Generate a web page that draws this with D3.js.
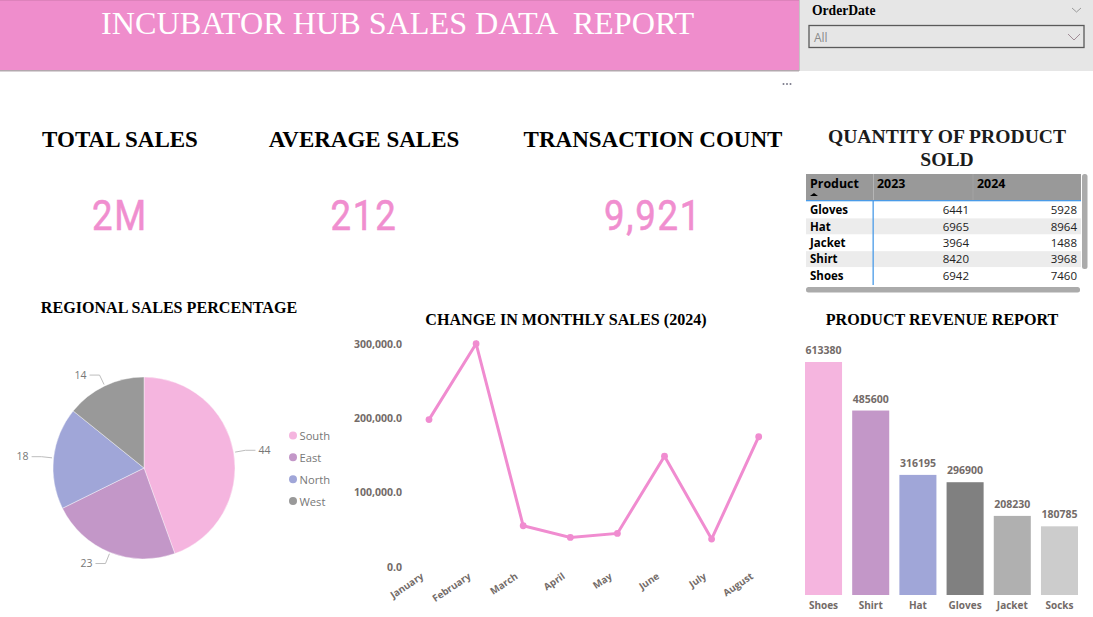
<!DOCTYPE html>
<html>
<head>
<meta charset="utf-8">
<script src="https://cdn.jsdelivr.net/npm/d3@7"></script>
<style>
  html, body { margin: 0; padding: 0; background: #fff; overflow: hidden; }
  svg { display: block; }
  text { font-family: "Open Sans", sans-serif; }
  .serif { font-family: "Liberation Serif", serif; font-weight: bold; fill: #000; }
  .kpi { font-family: "Roboto", sans-serif; font-weight: 400; fill: #F08ECF; stroke: #F08ECF; stroke-width: 0.6px; font-size: 42.5px; text-anchor: middle; letter-spacing: 2px; }
  .axis path, .axis line { display: none; }
  .axis text { font-size: 10.5px; font-weight: 700; fill: #736b68; font-family: "Open Sans", sans-serif; }
</style>
</head>
<body>
<div id="chart"></div>
<script>
let width = 1093;
let height = 617;

// kpis
let kpiTitles = ['TOTAL SALES', 'AVERAGE SALES', 'TRANSACTION COUNT'];
let kpiValues = ['2M', '212', '9,921'];

// quantity table
let tableColumns = ['Product', '2023', '2024'];
let tableProducts = ['Gloves', 'Hat', 'Jacket', 'Shirt', 'Shoes'];
let qty2023 = [6441, 6965, 3964, 8420, 6942];
let qty2024 = [5928, 8964, 1488, 3968, 7460];

// regional pie
let regions = ['South', 'East', 'North', 'West'];
let regionShare = [44.5, 23.2, 18.1, 14.2];
let regionColors = ['#F5B5DF', '#C397C8', '#A0A6D8', '#999999'];

// monthly line
let months = ['January', 'February', 'March', 'April', 'May', 'June', 'July', 'August'];
let monthlySales = [198000, 300000, 55400, 39800, 45100, 148900, 37500, 175000];
let lineTicks = [0, 100000, 200000, 300000];

// product bars
let products = ['Shoes', 'Shirt', 'Hat', 'Gloves', 'Jacket', 'Socks'];
let revenue = [613380, 485600, 316195, 296900, 208230, 180785];
let barColors = ['#F5B5DF', '#C397C8', '#A0A6D8', '#808080', '#B0B0B0', '#CCCCCC'];

let svg = d3.select('#chart').append('svg')
    .attr('width', width).attr('height', height);

// ---- header and slicer
svg.append('rect').attr('x', 0).attr('y', 0).attr('width', 799).attr('height', 71).attr('fill', '#EF8DCC');
svg.append('rect').attr('x', 0).attr('y', 0).attr('width', 799).attr('height', 1).attr('fill', '#dd82bb');
svg.append('rect').attr('x', 0).attr('y', 70).attr('width', 799).attr('height', 1.5).attr('fill', '#b3a8ae');
svg.append('rect').attr('x', 799).attr('y', 0).attr('width', 294).attr('height', 71).attr('fill', '#E6E6E6');
svg.append('rect').attr('x', 799).attr('y', 0).attr('width', 1).attr('height', 71).attr('fill', '#c4c4c4');
svg.append('text').attr('x', 101).attr('y', 33.5)
    .attr('xml:space', 'preserve').style('white-space', 'pre')
    .style('font-family', '"Liberation Serif", serif').style('font-size', '32.2px').attr('fill', '#fff')
    .text('INCUBATOR HUB SALES DATA  REPORT');
svg.append('text').attr('class', 'serif').attr('x', 812).attr('y', 15).style('font-size', '13.6px').text('OrderDate');
svg.append('rect').attr('x', 809).attr('y', 25.5).attr('width', 275).attr('height', 22)
    .attr('fill', 'none').attr('stroke', '#5a5a5a').attr('stroke-width', 1.3);
svg.append('text').attr('x', 814).attr('y', 42).style('font-size', '12px').attr('fill', '#8a8a8a').text('All');
let chevron = d3.line();
svg.append('path').attr('d', chevron([[1072, 8], [1076.5, 12], [1081, 8]])).attr('fill', 'none').attr('stroke', '#9a9a9a');
svg.append('path').attr('d', chevron([[1068, 34], [1074, 40], [1080, 34]])).attr('fill', 'none').attr('stroke', '#a08c96');
svg.selectAll('.dots').data([783.5, 787, 790.5]).enter().append('circle')
    .attr('cx', d => d).attr('cy', 84).attr('r', 1).attr('fill', '#7a7a8a');

// ---- kpis
let kpiX = [120, 364, 653];
svg.selectAll('.kpiTitle').data(kpiTitles).enter().append('text')
    .attr('class', 'serif').attr('x', (d, i) => kpiX[i]).attr('y', 147)
    .attr('text-anchor', 'middle').style('font-size', '23px').text(d => d);
svg.selectAll('.kpi').data(kpiValues).enter().append('text')
    .attr('class', 'kpi')
    .attr('transform', (d, i) => 'translate(' + kpiX[i] + ',229.5) scale(0.86,1)')
    .text(d => d);

// ---- quantity table
svg.append('text').attr('class', 'serif').attr('x', 947).attr('y', 143).attr('text-anchor', 'middle').style('font-size', '19.6px').style('fill', '#1c1c1c').text('QUANTITY OF PRODUCT');
svg.append('text').attr('class', 'serif').attr('x', 947).attr('y', 166).attr('text-anchor', 'middle').style('font-size', '19.6px').style('fill', '#1c1c1c').text('SOLD');

let rowY = d3.scaleBand().domain(tableProducts).range([202, 284]);
let tbl = svg.append('g');
tbl.append('rect').attr('x', 806).attr('y', 174).attr('width', 275).attr('height', 26).attr('fill', '#999999');
tbl.append('line').attr('x1', 873.5).attr('x2', 873.5).attr('y1', 174).attr('y2', 200).attr('stroke', '#b5b5b5');
tbl.append('line').attr('x1', 973).attr('x2', 973).attr('y1', 174).attr('y2', 200).attr('stroke', '#a3a3a3');
tbl.selectAll('.stripe').data(tableProducts).enter().append('rect')
    .attr('x', 806).attr('width', 275).attr('y', d => rowY(d)).attr('height', rowY.bandwidth() - 0.5)
    .attr('fill', (d, i) => i % 2 ? '#ECECEC' : '#fff');
tbl.append('rect').attr('x', 806).attr('y', 200).attr('width', 275).attr('height', 1.3).attr('fill', '#4A9BE8');
tbl.append('rect').attr('x', 872.5).attr('y', 200).attr('width', 1.3).attr('height', 85).attr('fill', '#4A9BE8');
let headX = [810, 877, 977];
tbl.selectAll('.head').data(tableColumns).enter().append('text')
    .attr('x', (d, i) => headX[i]).attr('y', 188)
    .style('font-size', '12.4px').style('font-weight', 700).attr('fill', '#000').text(d => d);
tbl.append('path').attr('d', d3.symbol(d3.symbolTriangle, 14)()).attr('transform', 'translate(814,195) scale(1.4,.6)').attr('fill', '#000');
tbl.selectAll('.rowName').data(tableProducts).enter().append('text')
    .attr('x', 810).attr('y', d => rowY(d) + rowY.bandwidth() / 2 + 4)
    .style('font-size', '11.5px').style('font-weight', 700).attr('fill', '#000').text(d => d);
tbl.selectAll('.q23').data(qty2023).enter().append('text')
    .attr('x', 969).attr('y', (d, i) => rowY(tableProducts[i]) + rowY.bandwidth() / 2 + 4)
    .attr('text-anchor', 'end').style('font-size', '11.5px').attr('fill', '#222').text(d => d);
tbl.selectAll('.q24').data(qty2024).enter().append('text')
    .attr('x', 1077).attr('y', (d, i) => rowY(tableProducts[i]) + rowY.bandwidth() / 2 + 4)
    .attr('text-anchor', 'end').style('font-size', '11.5px').attr('fill', '#222').text(d => d);
tbl.append('rect').attr('x', 1082).attr('y', 174).attr('width', 5.5).attr('height', 95).attr('rx', 2.5).attr('fill', '#ababab');
tbl.append('rect').attr('x', 806).attr('y', 287).attr('width', 274).attr('height', 5.5).attr('rx', 2.5).attr('fill', '#ababab');

// ---- pie
svg.append('text').attr('class', 'serif').attr('x', 169).attr('y', 313).attr('text-anchor', 'middle').style('font-size', '16.1px').text('REGIONAL SALES PERCENTAGE');
let cx = 144, cy = 468, r = 91;
let pieG = svg.append('g').attr('transform', 'translate(' + cx + ',' + cy + ')');
let slices = d3.pie().sort(null)(regionShare);
pieG.selectAll('path').data(slices).enter().append('path')
    .attr('d', d3.arc().innerRadius(0).outerRadius(r))
    .attr('fill', (d, i) => regionColors[i]).attr('stroke', '#fff').attr('stroke-width', 0.4);
let polar = (a, rad) => [Math.sin(a) * rad, -Math.cos(a) * rad];
slices.forEach((d, i) => {
    let mid = (d.startAngle + d.endAngle) / 2;
    let p0 = polar(mid, r + 1.5);
    let p1 = polar(mid, r + 12);
    let side = p1[0] > 0 ? 1 : -1;
    let p2 = [p1[0] + side * 10, p1[1]];
    pieG.append('path').attr('d', d3.line()([p0, p1, p2])).attr('fill', 'none').attr('stroke', '#bdbdbd');
    pieG.append('text').attr('x', p2[0] + side * 3).attr('y', p2[1] + 3.5)
        .attr('text-anchor', side > 0 ? 'start' : 'end')
        .style('font-size', '10.5px').attr('fill', '#777').text(Math.floor(d.value));
});
let legendY = d3.scalePoint().domain(regions).range([435.5, 501]);
svg.selectAll('.legDot').data(regions).enter().append('circle')
    .attr('cx', 293).attr('cy', d => legendY(d)).attr('r', 4).attr('fill', (d, i) => regionColors[i]);
svg.selectAll('.legText').data(regions).enter().append('text')
    .attr('x', 299.5).attr('y', d => legendY(d) + 4.5)
    .style('font-size', '11.2px').attr('fill', '#777').text(d => d);

// ---- line
svg.append('text').attr('class', 'serif').attr('x', 566).attr('y', 325).attr('text-anchor', 'middle').style('font-size', '16.1px').text('CHANGE IN MONTHLY SALES (2024)');
let x = d3.scalePoint().domain(months).range([429, 758.7]);
let y = d3.scaleLinear().domain([0, 300000]).range([567, 343.7]);
svg.append('g').attr('class', 'axis').attr('transform', 'translate(407,0)')
    .call(d3.axisLeft(y).tickValues(lineTicks).tickSize(0).tickPadding(5).tickFormat(d3.format(',.1f')));
svg.append('g').attr('class', 'axis').attr('transform', 'translate(0,575)')
    .call(d3.axisBottom(x).tickSize(0).tickPadding(0))
    .selectAll('text')
    .style('font-size', '9.7px')
    .attr('text-anchor', 'end').attr('dy', '0.35em')
    .attr('transform', 'translate(-7,0) rotate(-34)');
svg.append('path')
    .attr('d', d3.line().x((d, i) => x(months[i])).y(d => y(d))(monthlySales))
    .attr('fill', 'none').attr('stroke', '#F08CD0').attr('stroke-width', 3);
svg.selectAll('.pt').data(monthlySales).enter().append('circle')
    .attr('cx', (d, i) => x(months[i])).attr('cy', d => y(d)).attr('r', 3.4).attr('fill', '#F08CD0');

// ---- bars
svg.append('text').attr('class', 'serif').attr('x', 942).attr('y', 325).attr('text-anchor', 'middle').style('font-size', '16.1px').text('PRODUCT REVENUE REPORT');
let bx = d3.scaleBand().domain(products).range([805, 1078]).paddingInner(0.215);
let by = d3.scaleLinear().domain([0, 613380]).range([595, 362]);
svg.selectAll('.bar').data(revenue).enter().append('rect')
    .attr('x', (d, i) => bx(products[i])).attr('width', bx.bandwidth())
    .attr('y', d => by(d)).attr('height', d => by(0) - by(d))
    .attr('fill', (d, i) => barColors[i]);
svg.selectAll('.barVal').data(revenue).enter().append('text')
    .attr('x', (d, i) => bx(products[i]) + bx.bandwidth() / 2).attr('y', d => by(d) - 8)
    .attr('text-anchor', 'middle').style('font-size', '10.5px').style('font-weight', 700).attr('fill', '#736b68').text(d => d);
svg.append('g').attr('class', 'axis').attr('transform', 'translate(0,599)')
    .call(d3.axisBottom(bx).tickSize(0).tickPadding(3))
    .selectAll('text').style('font-size', '10px');
</script>
</body>
</html>
